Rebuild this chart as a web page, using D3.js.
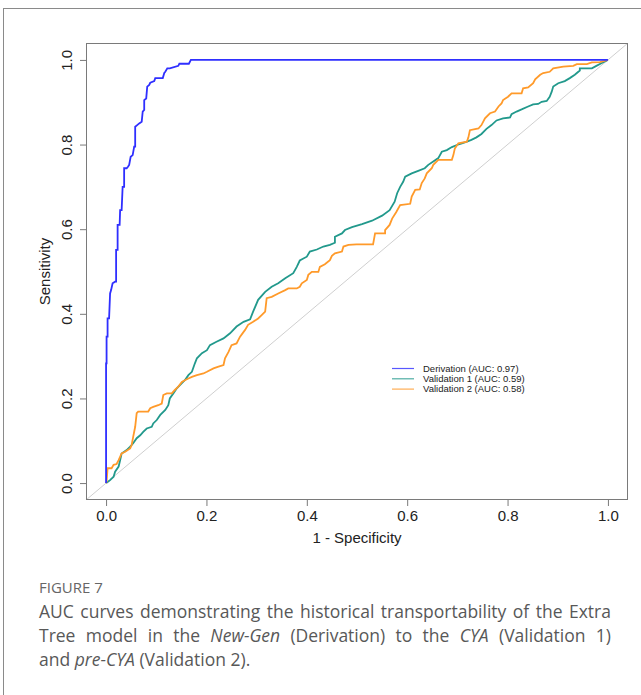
<!DOCTYPE html>
<html>
<head>
<meta charset="utf-8">
<script src="https://cdn.jsdelivr.net/npm/d3@7"></script>
<style>
  html, body { margin: 0; padding: 0; background: #fff; }
  #wrap { position: relative; width: 641px; height: 695px; overflow: hidden; }
  svg { position: absolute; left: 0; top: 0; }
  .cap { position: absolute; left: 39px; width: 572px; font-family: "Open Sans", sans-serif; color: #585858; white-space: nowrap; }
  .just { text-align: justify; text-align-last: justify; }
</style>
</head>
<body>
<div id="wrap">
  <svg id="chart" width="641" height="695"></svg>
  <div class="cap" id="figlabel" style="top:577px;font-size:15px;color:#666;">FIGURE 7</div>
  <div class="cap just" style="top:599px;font-size:17.5px;">AUC curves demonstrating the historical transportability of the Extra</div>
  <div class="cap just" style="top:623px;font-size:17.5px;">Tree model in the <i>New-Gen</i> (Derivation) to the <i>CYA</i> (Validation 1)</div>
  <div class="cap" style="top:647px;font-size:17.5px;">and <i>pre-CYA</i> (Validation 2).</div>
</div>
<script>
// ---- data (1 - specificity, sensitivity) ----
const derivation = [[0,0],[0,0.283],[0.001,0.283],[0.001,0.346],[0.003,0.346],[0.003,0.389],[0.006,0.389],[0.008,0.448],[0.010,0.456],[0.013,0.472],[0.018,0.476],[0.020,0.476],[0.020,0.551],[0.023,0.551],[0.023,0.610],[0.027,0.610],[0.028,0.645],[0.031,0.645],[0.033,0.700],[0.036,0.700],[0.036,0.744],[0.041,0.744],[0.044,0.748],[0.046,0.752],[0.049,0.771],[0.053,0.775],[0.056,0.795],[0.058,0.795],[0.058,0.842],[0.062,0.846],[0.066,0.850],[0.071,0.854],[0.073,0.878],[0.076,0.882],[0.076,0.905],[0.080,0.909],[0.082,0.937],[0.086,0.941],[0.088,0.946],[0.096,0.950],[0.098,0.957],[0.113,0.957],[0.116,0.969],[0.118,0.972],[0.122,0.980],[0.127,0.980],[0.144,0.986],[0.146,0.991],[0.165,0.991],[0.169,1.0],[1,1]];

const validation1 = [[0,0],[0.001,0.001],[0.008,0.007],[0.015,0.015],[0.018,0.027],[0.025,0.039],[0.028,0.054],[0.031,0.070],[0.041,0.078],[0.048,0.086],[0.054,0.094],[0.061,0.106],[0.068,0.113],[0.074,0.121],[0.081,0.129],[0.091,0.133],[0.094,0.141],[0.101,0.149],[0.108,0.161],[0.118,0.173],[0.124,0.184],[0.127,0.200],[0.134,0.212],[0.141,0.224],[0.151,0.236],[0.157,0.243],[0.164,0.255],[0.171,0.263],[0.177,0.283],[0.181,0.295],[0.191,0.307],[0.201,0.314],[0.207,0.326],[0.220,0.334],[0.234,0.342],[0.247,0.354],[0.260,0.370],[0.274,0.381],[0.287,0.387],[0.293,0.405],[0.303,0.433],[0.317,0.452],[0.330,0.464],[0.343,0.472],[0.357,0.484],[0.373,0.496],[0.380,0.511],[0.386,0.526],[0.400,0.535],[0.406,0.547],[0.420,0.552],[0.433,0.559],[0.446,0.563],[0.456,0.568],[0.456,0.582],[0.470,0.590],[0.476,0.598],[0.490,0.605],[0.510,0.612],[0.530,0.620],[0.550,0.632],[0.565,0.645],[0.575,0.665],[0.580,0.685],[0.586,0.700],[0.592,0.712],[0.596,0.724],[0.609,0.732],[0.622,0.738],[0.635,0.744],[0.642,0.752],[0.652,0.760],[0.662,0.768],[0.669,0.783],[0.679,0.787],[0.689,0.794],[0.699,0.799],[0.709,0.803],[0.719,0.807],[0.728,0.811],[0.738,0.817],[0.748,0.825],[0.758,0.837],[0.768,0.846],[0.778,0.857],[0.791,0.862],[0.805,0.864],[0.808,0.872],[0.818,0.878],[0.828,0.883],[0.841,0.890],[0.851,0.895],[0.861,0.896],[0.868,0.901],[0.878,0.903],[0.884,0.913],[0.888,0.925],[0.891,0.937],[0.901,0.945],[0.914,0.950],[0.924,0.957],[0.934,0.965],[0.944,0.975],[0.944,0.980],[0.968,0.980],[0.977,0.986],[0.987,0.992],[1,1]];

const validation2 = [[0,0],[0.001,0.003],[0.003,0.035],[0.011,0.035],[0.015,0.043],[0.021,0.045],[0.025,0.054],[0.031,0.070],[0.038,0.074],[0.048,0.082],[0.051,0.090],[0.054,0.109],[0.058,0.133],[0.061,0.165],[0.064,0.169],[0.084,0.169],[0.088,0.177],[0.094,0.180],[0.104,0.184],[0.111,0.188],[0.114,0.208],[0.121,0.212],[0.131,0.212],[0.137,0.220],[0.144,0.228],[0.151,0.239],[0.157,0.243],[0.164,0.247],[0.171,0.251],[0.181,0.255],[0.194,0.259],[0.201,0.263],[0.214,0.271],[0.224,0.275],[0.234,0.279],[0.237,0.295],[0.244,0.310],[0.250,0.326],[0.260,0.330],[0.267,0.346],[0.277,0.362],[0.283,0.374],[0.293,0.381],[0.303,0.389],[0.310,0.397],[0.317,0.405],[0.320,0.437],[0.330,0.440],[0.343,0.448],[0.357,0.456],[0.363,0.460],[0.380,0.460],[0.386,0.464],[0.390,0.472],[0.400,0.480],[0.403,0.492],[0.410,0.499],[0.423,0.499],[0.426,0.511],[0.436,0.517],[0.446,0.527],[0.450,0.537],[0.456,0.543],[0.470,0.547],[0.473,0.559],[0.483,0.563],[0.499,0.564],[0.532,0.564],[0.536,0.590],[0.556,0.590],[0.556,0.598],[0.565,0.610],[0.570,0.625],[0.578,0.640],[0.586,0.657],[0.606,0.660],[0.609,0.677],[0.616,0.693],[0.625,0.694],[0.629,0.709],[0.635,0.720],[0.639,0.732],[0.649,0.744],[0.652,0.752],[0.662,0.764],[0.689,0.764],[0.692,0.775],[0.695,0.791],[0.702,0.803],[0.719,0.807],[0.722,0.817],[0.725,0.834],[0.742,0.838],[0.748,0.846],[0.755,0.862],[0.765,0.874],[0.775,0.878],[0.782,0.890],[0.788,0.897],[0.791,0.905],[0.801,0.913],[0.808,0.921],[0.828,0.921],[0.831,0.933],[0.841,0.935],[0.851,0.945],[0.855,0.954],[0.865,0.965],[0.871,0.969],[0.884,0.972],[0.891,0.980],[0.911,0.984],[0.931,0.986],[0.938,0.990],[0.958,0.990],[0.968,0.994],[0.984,0.995],[1,1]];

const seriesNames = ["Derivation", "Validation 1", "Validation 2"];
const aucValues = [0.97, 0.59, 0.58];
const seriesColors = ["#2f2fff", "#22998c", "#ff9a2a"];
const xTicks = [0, 0.2, 0.4, 0.6, 0.8, 1.0];
const yTicks = [0, 0.2, 0.4, 0.6, 0.8, 1.0];

// ---- layout ----
const svg = d3.select("#chart");
const L = 86, R = 628, T = 43, B = 500;
const x = d3.scaleLinear().domain([-0.04, 1.04]).range([L, R]);
const y = d3.scaleLinear().domain([-0.04, 1.04]).range([B, T]);
const font = "'Liberation Sans', Arial, sans-serif";

// outer frame
svg.append("rect").attr("x", 3.5).attr("y", 8.5).attr("width", 700).attr("height", 800)
  .attr("fill", "none").attr("stroke", "#8a8a8a").attr("stroke-width", 1);

svg.append("clipPath").attr("id", "clip").append("rect")
  .attr("x", L).attr("y", T).attr("width", R - L).attr("height", B - T);

const g = svg.append("g").attr("clip-path", "url(#clip)");
// diagonal reference
g.append("line").attr("x1", x(-0.04)).attr("y1", y(-0.04)).attr("x2", x(1.04)).attr("y2", y(1.04))
  .attr("stroke", "#cfcfcf").attr("stroke-width", 1);

const line = d3.line().x(d => x(d[0])).y(d => y(d[1]));
const series = [derivation, validation1, validation2];
[1, 2, 0].forEach(i => {
  g.append("path").datum(series[i]).attr("d", line)
    .attr("fill", "none").attr("stroke", seriesColors[i]).attr("stroke-width", 1.8)
    .attr("stroke-linejoin", "miter");
});

// box
svg.append("rect").attr("x", L + 0.5).attr("y", T + 0.5).attr("width", R - L - 1).attr("height", B - T - 1)
  .attr("fill", "none").attr("stroke", "#7a7a7a").attr("stroke-width", 1);

// x axis
const xa = svg.append("g").attr("transform", `translate(0,${B})`)
  .call(d3.axisBottom(x).tickValues(xTicks).tickFormat(d3.format(".1f")).tickSize(6).tickPadding(4));
xa.select(".domain").remove();
xa.selectAll(".tick line").attr("stroke", "#7a7a7a");
xa.selectAll("text").attr("font-family", font).attr("font-size", 15).attr("fill", "#222");

// y axis
const ya = svg.append("g").attr("transform", `translate(${L},0)`)
  .call(d3.axisLeft(y).tickValues(yTicks).tickFormat(d3.format(".1f")).tickSize(6));
ya.select(".domain").remove();
ya.selectAll(".tick line").attr("stroke", "#7a7a7a");
ya.selectAll("text").attr("font-family", font).attr("font-size", 15).attr("fill", "#222")
  .attr("x", null).attr("dy", null)
  .attr("text-anchor", "middle")
  .attr("transform", "translate(-14,0) rotate(-90)")
  .attr("y", 0);

// axis titles
svg.append("text").attr("x", (x(0) + x(1)) / 2).attr("y", 543).attr("text-anchor", "middle")
  .attr("font-family", font).attr("font-size", 15).attr("fill", "#222").text("1 - Specificity");
svg.append("text").attr("transform", `translate(50,${(T + B) / 2}) rotate(-90)`).attr("text-anchor", "middle")
  .attr("font-family", font).attr("font-size", 15).attr("fill", "#222").text("Sensitivity");

// legend
const lg = svg.append("g");
seriesNames.forEach((n, i) => {
  const yy = 368.5 + i * 10.3;
  lg.append("line").attr("x1", 392).attr("x2", 414).attr("y1", yy).attr("y2", yy)
    .attr("stroke", seriesColors[i]).attr("stroke-width", 1.2).attr("opacity", 0.8);
  lg.append("text").attr("x", 423).attr("y", yy + 3.3).attr("font-family", font).attr("font-size", 9.5)
    .attr("fill", "#222").text(`${n} (AUC: ${aucValues[i].toFixed(2)})`);
});
</script>
</body>
</html>
